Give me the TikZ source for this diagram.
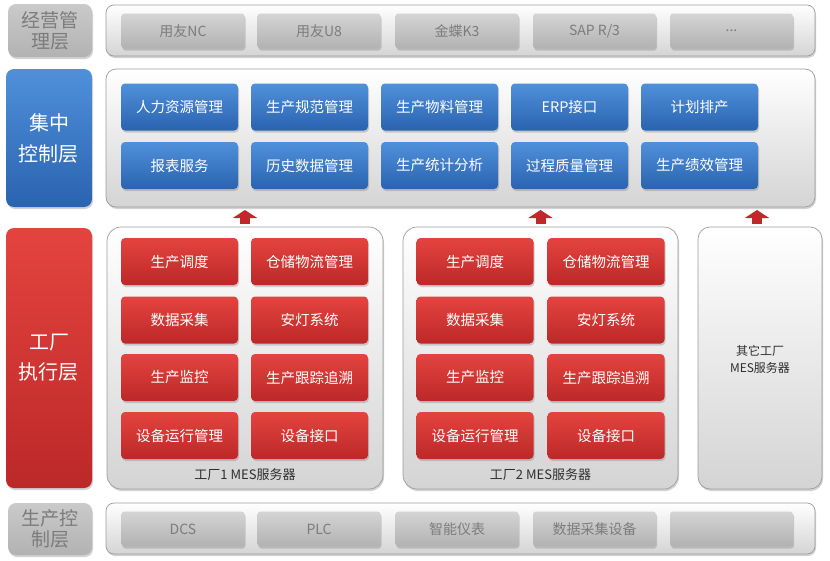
\documentclass[tikz,border=0pt]{standalone}
\usepackage{fontspec}
\setmainfont{Noto Sans CJK SC}
\usetikzlibrary{shadows,arrows.meta}
\definecolor{blueT}{HTML}{5090DA}
\definecolor{blueB}{HTML}{2A63B0}
\definecolor{redT}{HTML}{E4443F}
\definecolor{redB}{HTML}{BC2828}
\definecolor{grayT}{HTML}{CACACA}
\definecolor{grayB}{HTML}{B2B2B2}
\definecolor{grayTxt}{HTML}{7C7C7C}
\definecolor{contB}{HTML}{D4D4D4}
\definecolor{contLine}{HTML}{9C9C9C}
\definecolor{arrRed}{HTML}{C0282A}
\definecolor{darkTxt}{HTML}{2E2E2E}
\tikzset{
  shd/.style={drop shadow={opacity=0.35,shadow xshift=1pt,shadow yshift=-2pt}},
  cont/.style={draw=contLine, line width=0.7pt, top color=white, bottom color=contB, rounded corners=#1, outer sep=0pt, inner sep=0pt, shd},
  cont/.default=9pt,
  labbox/.style={rounded corners=8pt, inner sep=0pt, outer sep=0pt, align=center, shd},
  graylab/.style={labbox, top color=grayT, bottom color=grayB, text=grayTxt, font=\fontsize{19}{21}\selectfont},
  bluelab/.style={labbox, top color=blueT, bottom color=blueB, text=white, font=\fontsize{20}{31}\selectfont},
  redlab/.style={labbox, top color=redT, bottom color=redB, text=white, font=\fontsize{20}{30}\selectfont},
  mod/.style={rounded corners=4pt, minimum width=117pt, minimum height=47pt, inner sep=0pt, outer sep=0pt, text=white, font=\fontsize{14.5}{16}\selectfont, shd},
  bluemod/.style={mod, top color=blueT, bottom color=blueB},
  redmod/.style={mod, top color=redT, bottom color=redB},
  graymod/.style={rounded corners=3pt, minimum width=123pt, minimum height=35pt, inner sep=0pt, outer sep=0pt, top color=grayT!80, bottom color=grayB, text=grayTxt, font=\fontsize{14}{16}\selectfont, shd},
  uparrow/.style={arrRed, line width=10pt, -{Triangle[width=24pt,length=8pt]}, shorten <=3pt, shorten >=3pt},
  srvtxt/.style={text=darkTxt, font=\fontsize{13}{15}\selectfont, inner sep=0pt},
}
\begin{document}
\begin{tikzpicture}[x=1pt,y=-1pt]
\fill[white] (0,0) rectangle (830,560);
\useasboundingbox (0,0) rectangle (830,560);

% ---- top layer
\node[graylab, minimum width=84pt, minimum height=53pt] (lab1) at (50,30.5) {经营管\\理层};
\node[cont=8pt, minimum width=709pt, minimum height=51pt] (c1) at (460.5,30.5) {};
\node[graymod] (e1) at (183,31) {用友NC};
\node[graymod] (e2) at (319,31) {用友U8};
\node[graymod] (e3) at (457,31) {金蝶K3};
\node[graymod] (e4) at (594.5,31) {SAP R/3};
\node[graymod] (e5) at (731.5,31) {...};

% ---- central control layer
\node[bluelab, minimum width=86pt, minimum height=138pt] (lab2) at (49,138) {集中\\控制层};
\node[cont=10pt, minimum width=709pt, minimum height=138pt] (c2) at (460.5,138) {};
\node[bluemod] (b11) at (179.5,107) {人力资源管理};
\node[bluemod] (b12) at (309.5,107) {生产规范管理};
\node[bluemod] (b13) at (439.5,107) {生产物料管理};
\node[bluemod] (b14) at (569.5,107) {ERP接口};
\node[bluemod] (b15) at (699.5,107) {计划排产};
\node[bluemod] (b21) at (179.5,165.5) {报表服务};
\node[bluemod] (b22) at (309.5,165.5) {历史数据管理};
\node[bluemod] (b23) at (439.5,165.5) {生产统计分析};
\node[bluemod] (b24) at (569.5,165.5) {过程质量管理};
\node[bluemod] (b25) at (699.5,165.5) {生产绩效管理};

% ---- factory execution layer
\node[redlab, minimum width=86pt, minimum height=260pt] (lab3) at (49,358) {工厂\\执行层};

\node[cont=14pt, minimum width=276pt, minimum height=262pt] (f1) at (245,358) {};
\node[redmod] (f1a) at (179.5,261.5) {生产调度};
\node[redmod] (f1b) at (309.5,261.5) {仓储物流管理};
\node[redmod] (f1c) at (179.5,320) {数据采集};
\node[redmod] (f1d) at (309.5,320) {安灯系统};
\node[redmod] (f1e) at (179.5,377.5) {生产监控};
\node[redmod] (f1f) at (309.5,377.5) {生产跟踪追溯};
\node[redmod] (f1g) at (179.5,435.5) {设备运行管理};
\node[redmod] (f1h) at (309.5,435.5) {设备接口};
\node[srvtxt] (f1t) at (245,475) {工厂1 MES服务器};

\node[cont=14pt, minimum width=275pt, minimum height=262pt] (f2) at (540.5,358) {};
\node[redmod] (f2a) at (475,261.5) {生产调度};
\node[redmod] (f2b) at (606,261.5) {仓储物流管理};
\node[redmod] (f2c) at (475,320) {数据采集};
\node[redmod] (f2d) at (606,320) {安灯系统};
\node[redmod] (f2e) at (475,377.5) {生产监控};
\node[redmod] (f2f) at (606,377.5) {生产跟踪追溯};
\node[redmod] (f2g) at (475,435.5) {设备运行管理};
\node[redmod] (f2h) at (606,435.5) {设备接口};
\node[srvtxt] (f2t) at (540.5,475) {工厂2 MES服务器};

\node[cont=12pt, minimum width=124pt, minimum height=262pt] (f3) at (760,358) {};
\node[srvtxt, align=center, font=\fontsize{12}{17}\selectfont] (f3t) at (760,359) {其它工厂\\MES服务器};

% ---- arrows
\draw[uparrow] (f1.north) -- (f1.north |- c2.south);
\draw[uparrow] (f2.north) -- (f2.north |- c2.south);
\coordinate (f3n) at ([xshift=-3pt]f3.north);
\draw[uparrow] (f3n) -- (f3n |- c2.south);

% ---- production control layer
\node[graylab, minimum width=84pt, minimum height=52pt] (lab4) at (50,529) {生产控\\制层};
\node[cont=8pt, minimum width=709pt, minimum height=51pt] (c4) at (460.5,528.5) {};
\node[graymod] (p1) at (183,529) {DCS};
\node[graymod] (p2) at (319,529) {PLC};
\node[graymod] (p3) at (457,529) {智能仪表};
\node[graymod] (p4) at (594.5,529) {数据采集设备};
\node[graymod] (p5) at (731.5,529) {};
\end{tikzpicture}
\end{document}
